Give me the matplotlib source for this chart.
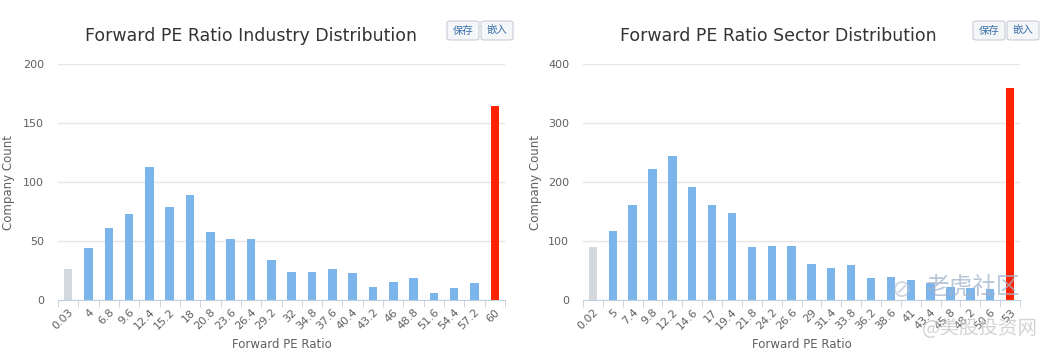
import matplotlib.pyplot as plt
from matplotlib.patches import FancyBboxPatch
import numpy as np

plt.rcParams['font.family'] = ['DejaVu Sans', 'Noto Sans CJK SC']

# data
ind_labels = ['0.03', '4', '6.8', '9.6', '12.4', '15.2', '18', '20.8', '23.6', '26.4', '29.2',
              '32', '34.8', '37.6', '40.4', '43.2', '46', '48.8', '51.6', '54.4', '57.2', '60']
ind_counts = [26, 44, 61, 73, 113, 79, 89, 58, 52, 52, 34,
              24, 24, 26, 23, 11, 15, 19, 6, 10, 14, 164]

sec_labels = ['0.02', '5', '7.4', '9.8', '12.2', '14.6', '17', '19.4', '21.8', '24.2', '26.6',
              '29', '31.4', '33.8', '36.2', '38.6', '41', '43.4', '45.8', '48.2', '50.6', '53']
sec_counts = [90, 117, 161, 222, 244, 192, 161, 148, 90, 92, 92,
              61, 54, 59, 37, 39, 34, 28, 22, 20, 18, 360]

W, H = 1055, 353
BLUE = '#7cb5ec'
GREY = '#d3d9df'
RED = '#ff2200'

fig = plt.figure(figsize=(W / 100, H / 100), dpi=100)


def px_axes(x0, x1, y_top, y_bot):
    return fig.add_axes([x0 / W, 1 - y_bot / H, (x1 - x0) / W, (y_bot - y_top) / H])


def draw_chart(x0, x1, labels, counts, ymax, ystep, title, title_x):
    ax = px_axes(x0, x1, 64, 300)
    n = len(counts)
    colors = [GREY] + [BLUE] * (n - 2) + [RED]
    ax.bar(np.arange(n), counts, width=0.42, color=colors, zorder=2)
    ax.set_xlim(-0.5, n - 0.5)
    ax.set_ylim(0, ymax)
    ax.set_yticks(np.arange(0, ymax + 1, ystep))
    ax.grid(axis='y', color='#e6e6e6', linewidth=1, zorder=0)
    for s in ['top', 'right', 'left']:
        ax.spines[s].set_visible(False)
    ax.spines['bottom'].set_color('#c0d0e0')
    ax.tick_params(axis='y', length=0, labelsize=8, labelcolor='#606060', pad=10)
    # category labels centred, tick marks between categories
    ax.set_xticks(np.arange(n))
    ax.set_xticklabels(labels, rotation=45, ha='right', rotation_mode='anchor',
                       fontsize=8, color='#606060')
    ax.tick_params(axis='x', which='major', length=0, pad=5)
    ax.set_xticks(np.arange(-0.5, n), minor=True)
    ax.tick_params(axis='x', which='minor', length=5, color='#c0d0e0')
    ax.set_ylabel('Company Count', fontsize=8.5, color='#606060')
    ax.set_xlabel('Forward PE Ratio', fontsize=8.5, color='#606060')
    # place axis titles where the reference has them
    ax.yaxis.set_label_coords((9 - x0) / (x1 - x0) if x0 < 100 else (535 - x0) / (x1 - x0), 0.5)
    ax.xaxis.set_label_coords(0.5, -(345 - 300) / 236)
    ax.xaxis.label.set_va('center')
    ax.yaxis.label.set_va('center')
    fig.text(title_x / W, 1 - 36 / H, title, fontsize=12.5, color='#333333',
             ha='center', va='center')
    return ax


draw_chart(58, 505, ind_labels, ind_counts, 200, 50,
           'Forward PE Ratio Industry Distribution', 251)
draw_chart(583, 1020, sec_labels, sec_counts, 400, 100,
           'Forward PE Ratio Sector Distribution', 778)

# export buttons
buttons = [(447, '保存'), (481, '嵌入'), (973, '保存'), (1007, '嵌入')]
for bx, txt in buttons:
    p = FancyBboxPatch((bx / W, 1 - 40 / H), 32 / W, 19 / H,
                       boxstyle='round,pad=0,rounding_size=0.004',
                       transform=fig.transFigure, facecolor='#f4f6f8',
                       edgecolor='#c8ced6', linewidth=0.8)
    fig.patches.append(p)
    fig.text((bx + 16) / W, 1 - 30.5 / H, txt, fontsize=7.5, color='#3a6fa8',
             ha='center', va='center', family=['Noto Sans CJK SC', 'DejaVu Sans'])

# watermark
fig.text(902 / W, 1 - 290 / H, '⊘', fontsize=17, color='#b8c4d4', alpha=0.7,
         ha='center', va='center')
fig.text(972 / W, 1 - 288 / H, '老虎社区', fontsize=17, color='#9fb3cc', alpha=0.75,
         ha='center', va='center', family=['Noto Sans CJK SC', 'DejaVu Sans'])
fig.text(980 / W, 1 - 328 / H, '@美股投资网', fontsize=14, color='#c8c8c8', alpha=0.8,
         ha='center', va='center', family=['Noto Sans CJK SC', 'DejaVu Sans'])

fig.savefig('out.png', dpi=100, facecolor='white')
